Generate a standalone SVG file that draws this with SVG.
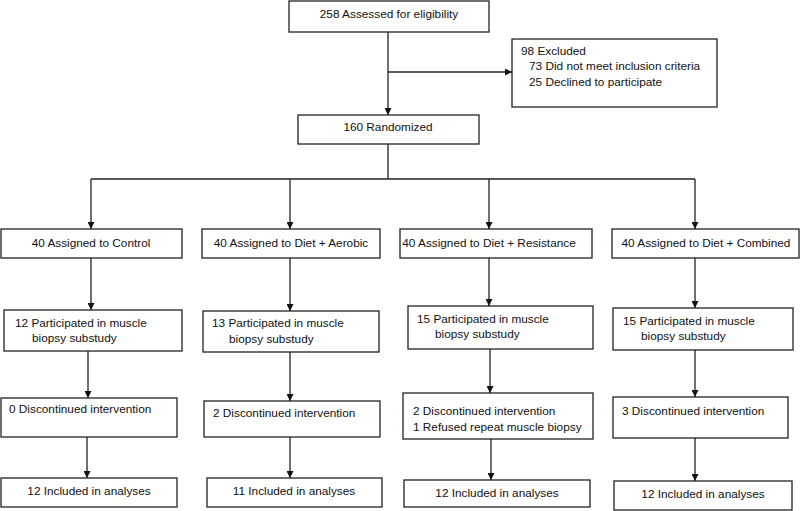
<svg xmlns="http://www.w3.org/2000/svg" width="800" height="511" viewBox="0 0 800 511">
<defs>
<marker id="ah" viewBox="0 0 10 10" refX="10" refY="5" markerWidth="7" markerHeight="7" markerUnits="userSpaceOnUse" orient="auto">
<path d="M0,0 L10,5 L0,10 z" fill="#111"/>
</marker>
<style>
rect{fill:#fff;stroke:#222;stroke-width:1.3}
text{font-family:"Liberation Sans",Arial,sans-serif;font-size:11.8px;fill:#111}
.c{text-anchor:middle}
#connectors path{fill:none;stroke:#222;stroke-width:1.3}
</style>
</defs>
<rect x="0" y="0" width="800" height="511" style="fill:#fff;stroke:none"/>
<g id="connectors">
<path d="M388,32 V115" marker-end="url(#ah)"/>
<path d="M388,72 H512" marker-end="url(#ah)"/>
<path d="M388,144 V179 M91,179 H695"/>
<path d="M91,179 V229" marker-end="url(#ah)"/>
<path d="M290,179 V229" marker-end="url(#ah)"/>
<path d="M489,179 V229" marker-end="url(#ah)"/>
<path d="M695,179 V229" marker-end="url(#ah)"/>
<path d="M91,258 V310" marker-end="url(#ah)"/>
<path d="M290,258 V311" marker-end="url(#ah)"/>
<path d="M489,258 V306" marker-end="url(#ah)"/>
<path d="M695,258 V308" marker-end="url(#ah)"/>
<path d="M88,351 V398" marker-end="url(#ah)"/>
<path d="M290,352 V401" marker-end="url(#ah)"/>
<path d="M490,349 V393" marker-end="url(#ah)"/>
<path d="M695,350 V397" marker-end="url(#ah)"/>
<path d="M87,437 V478" marker-end="url(#ah)"/>
<path d="M290,437 V478" marker-end="url(#ah)"/>
<path d="M491,439 V480" marker-end="url(#ah)"/>
<path d="M695,438 V481" marker-end="url(#ah)"/>
</g>
<g id="assessed"><rect x="289" y="1" width="200" height="31"/><text class="c" x="389" y="18">258 Assessed for eligibility</text></g>
<g id="excluded"><rect x="512" y="39" width="205" height="68"/><text x="521" y="55">98 Excluded</text><text x="529" y="70">73 Did not meet inclusion criteria</text><text x="529" y="86">25 Declined to participate</text></g>
<g id="randomized"><rect x="298" y="115" width="181" height="29"/><text class="c" x="388" y="131">160 Randomized</text></g>
<g id="assign-control"><rect x="1" y="229" width="181" height="29"/><text class="c" x="91" y="247">40 Assigned to Control</text></g>
<g id="assign-aerobic"><rect x="202" y="229" width="178" height="29"/><text class="c" x="291" y="247">40 Assigned to Diet + Aerobic</text></g>
<g id="assign-resistance"><rect x="400" y="229" width="192" height="29"/><text class="c" x="489" y="247">40 Assigned to Diet + Resistance</text></g>
<g id="assign-combined"><rect x="612" y="229" width="187" height="29"/><text class="c" x="706" y="247">40 Assigned to Diet + Combined</text></g>
<g id="biopsy-control"><rect x="4" y="310" width="178" height="41"/><text x="15" y="327">12 Participated in muscle</text><text x="32" y="342">biopsy substudy</text></g>
<g id="biopsy-aerobic"><rect x="203" y="311" width="176" height="41"/><text x="212" y="327">13 Participated in muscle</text><text x="229" y="343">biopsy substudy</text></g>
<g id="biopsy-resistance"><rect x="408" y="306" width="185" height="43"/><text x="417" y="323">15 Participated in muscle</text><text x="435" y="338">biopsy substudy</text></g>
<g id="biopsy-combined"><rect x="613" y="308" width="180" height="42"/><text x="623" y="325">15 Participated in muscle</text><text x="641" y="340">biopsy substudy</text></g>
<g id="disc-control"><rect x="1" y="398" width="176" height="39"/><text x="9" y="413">0 Discontinued intervention</text></g>
<g id="disc-aerobic"><rect x="204" y="401" width="176" height="36"/><text x="213" y="417">2 Discontinued intervention</text></g>
<g id="disc-resistance"><rect x="403" y="393" width="190" height="46"/><text x="413" y="415">2 Discontinued intervention</text><text x="413" y="431">1 Refused repeat muscle biopsy</text></g>
<g id="disc-combined"><rect x="613" y="397" width="175" height="41"/><text x="622" y="415">3 Discontinued intervention</text></g>
<g id="incl-control"><rect x="1" y="478" width="176" height="29"/><text class="c" x="89" y="495">12 Included in analyses</text></g>
<g id="incl-aerobic"><rect x="207" y="478" width="175" height="29"/><text class="c" x="294" y="495">11 Included in analyses</text></g>
<g id="incl-resistance"><rect x="404" y="480" width="186" height="27"/><text class="c" x="497" y="497">12 Included in analyses</text></g>
<g id="incl-combined"><rect x="614" y="481" width="178" height="29"/><text class="c" x="703" y="498">12 Included in analyses</text></g>
</svg>
